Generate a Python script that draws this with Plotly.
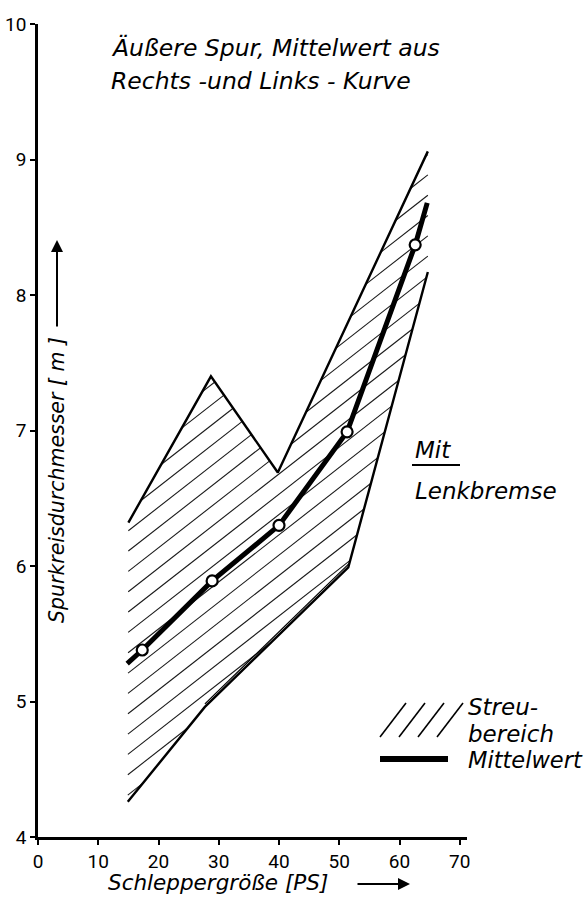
import numpy as np
import plotly.graph_objects as go

# ---------------- data ----------------
upper_x = [15.0, 28.7, 39.8, 64.7]
upper_y = [6.32, 7.40, 6.69, 9.06]
lower_x = [14.9, 27.7, 51.5, 64.7]
lower_y = [4.26, 4.96, 5.99, 8.17]

mean_line_x = [14.8, 17.3, 28.9, 40.0, 51.3, 62.6, 64.6]
mean_line_y = [5.28, 5.38, 5.89, 6.30, 6.99, 8.37, 8.68]
point_x = [17.3, 28.9, 40.0, 51.3, 62.6]
point_y = [5.38, 5.89, 6.30, 6.99, 8.37]

x_ticks = [0, 10, 20, 30, 40, 50, 60, 70]
y_ticks = [4, 5, 6, 7, 8, 9, 10]

# ---------------- geometry helpers ----------------
W, H = 587, 897
ML, MR, MT, MB = 38, 120, 24, 60
XR = [0, 71.2]
YR = [4, 10]
PW = W - ML - MR
PH = H - MT - MB
SX = PW / (XR[1] - XR[0])
SY = PH / (YR[1] - YR[0])


def X(x):
    return ML + (x - XR[0]) * SX


def Y(y):
    return MT + PH - (y - YR[0]) * SY


def ix(px):
    return XR[0] + (px - ML) / SX


def iy(py):
    return YR[0] + (MT + PH - py) / SY


def xp(px):
    return (px - ML) / PW


def yp(py):
    return (MT + PH - py) / PH


# ---------------- hatch lines computed from the band polygon ----------------
poly = [(X(a), Y(b)) for a, b in zip(upper_x, upper_y)] + \
       [(X(a), Y(b)) for a, b in zip(lower_x[::-1], lower_y[::-1])]
t = np.tan(np.deg2rad(38))
spacing = 20.3
c0 = 531 + t * 128
cs = [p[1] + t * p[0] for p in poly]
kmin = int(np.floor((min(cs) - c0) / spacing)) - 1
kmax = int(np.ceil((max(cs) - c0) / spacing)) + 1
hx, hy = [], []
n = len(poly)
for k in range(kmin, kmax + 1):
    c = c0 + k * spacing
    xs = []
    for i in range(n):
        p1, p2 = poly[i], poly[(i + 1) % n]
        f1 = p1[1] + t * p1[0] - c
        f2 = p2[1] + t * p2[0] - c
        if (f1 < 0) != (f2 < 0):
            s = f1 / (f1 - f2)
            xs.append(p1[0] + s * (p2[0] - p1[0]))
    xs.sort()
    for j in range(0, len(xs) - 1, 2):
        for q in (xs[j], xs[j + 1]):
            hx.append(ix(q))
            hy.append(iy(c - t * q))
        hx.append(None)
        hy.append(None)

fig = go.Figure()

fig.add_trace(go.Scatter(x=hx, y=hy, mode="lines",
                         line=dict(color="#1a1a1a", width=1.1),
                         hoverinfo="skip", showlegend=False))
fig.add_trace(go.Scatter(x=upper_x, y=upper_y, mode="lines",
                         line=dict(color="black", width=2.4),
                         showlegend=False))
fig.add_trace(go.Scatter(x=lower_x, y=lower_y, mode="lines",
                         line=dict(color="black", width=2.4),
                         showlegend=False))
# inner second stroke of the doubled lower edge
fig.add_trace(go.Scatter(x=lower_x[1:3], y=[v + 3 / SY for v in lower_y[1:3]],
                         mode="lines", line=dict(color="black", width=1.2),
                         showlegend=False))
fig.add_trace(go.Scatter(x=mean_line_x, y=mean_line_y, mode="lines",
                         line=dict(color="black", width=5),
                         showlegend=False))
fig.add_trace(go.Scatter(x=point_x, y=point_y, mode="markers",
                         marker=dict(symbol="circle", size=11, color="white",
                                     line=dict(color="black", width=2.2)),
                         showlegend=False))

FONT = "DejaVu Sans"
anns = []


def txt(px, py, text, size, xanchor="left", angle=0):
    anns.append(dict(x=xp(px), y=yp(py), xref="paper", yref="paper",
                     text="<i>" + text + "</i>", showarrow=False,
                     xanchor=xanchor, yanchor="middle", textangle=angle,
                     font=dict(family=FONT, size=size, color="black")))


txt(109, 48, "Äußere Spur, Mittelwert aus", 23.5)
txt(109, 81, "Rechts -und Links - Kurve", 23.5)
txt(57, 480, "Spurkreisdurchmesser [ m ]", 20.5, xanchor="center", angle=-90)
txt(218, 883, "Schleppergröße [PS]", 21.5, xanchor="center")
txt(413, 450, "Mit", 23)
txt(413, 491, "Lenkbremse", 23)
txt(466, 707, "Streu-", 23)
txt(466, 734, "bereich", 23)
txt(466, 760, "Mittelwert", 22.5)

# arrows next to the axis titles
anns.append(dict(x=xp(57), y=yp(240), xref="paper", yref="paper",
                 ax=0, ay=88, axref="pixel", ayref="pixel",
                 text="", showarrow=True, arrowhead=2, arrowsize=1.2,
                 arrowwidth=2, arrowcolor="black"))
anns.append(dict(x=xp(410), y=yp(884), xref="paper", yref="paper",
                 ax=-54, ay=0, axref="pixel", ayref="pixel",
                 text="", showarrow=True, arrowhead=2, arrowsize=1.2,
                 arrowwidth=2, arrowcolor="black"))

shapes = []
# underline of "Mit"
shapes.append(dict(type="line", xref="paper", yref="paper",
                   x0=xp(412), x1=xp(460), y0=yp(465), y1=yp(465),
                   line=dict(color="black", width=2)))
# legend: hatch swatch
for k in range(4):
    x0 = 380 + 19 * k
    shapes.append(dict(type="line", xref="paper", yref="paper",
                       x0=xp(x0), x1=xp(x0 + 26), y0=yp(737), y1=yp(703),
                       line=dict(color="black", width=1.6)))
# legend: thick line swatch
shapes.append(dict(type="line", xref="paper", yref="paper",
                   x0=xp(380), x1=xp(448), y0=yp(759), y1=yp(759),
                   line=dict(color="black", width=6)))

TICKFONT = dict(family="Roboto, sans-serif", size=19, color="black")

fig.update_layout(
    width=W, height=H,
    margin=dict(l=ML, r=MR, t=MT, b=MB, pad=0, autoexpand=False),
    paper_bgcolor="white", plot_bgcolor="white",
    annotations=anns, shapes=shapes,
    showlegend=False,
    xaxis=dict(range=XR, tickmode="array", tickvals=x_ticks,
               ticktext=[str(v) for v in x_ticks], automargin=False,
               showgrid=False, zeroline=False, showline=True,
               linecolor="black", linewidth=2.5, ticks="outside",
               ticklen=5, tickwidth=2, tickcolor="black",
               tickfont=TICKFONT),
    yaxis=dict(range=YR, tickmode="array", tickvals=y_ticks,
               ticktext=[str(v) for v in y_ticks], automargin=False,
               showgrid=False, zeroline=False, showline=True,
               linecolor="black", linewidth=2.5, ticks="outside",
               ticklen=5, tickwidth=2, tickcolor="black",
               tickfont=TICKFONT),
)

fig.write_html("out.html")
